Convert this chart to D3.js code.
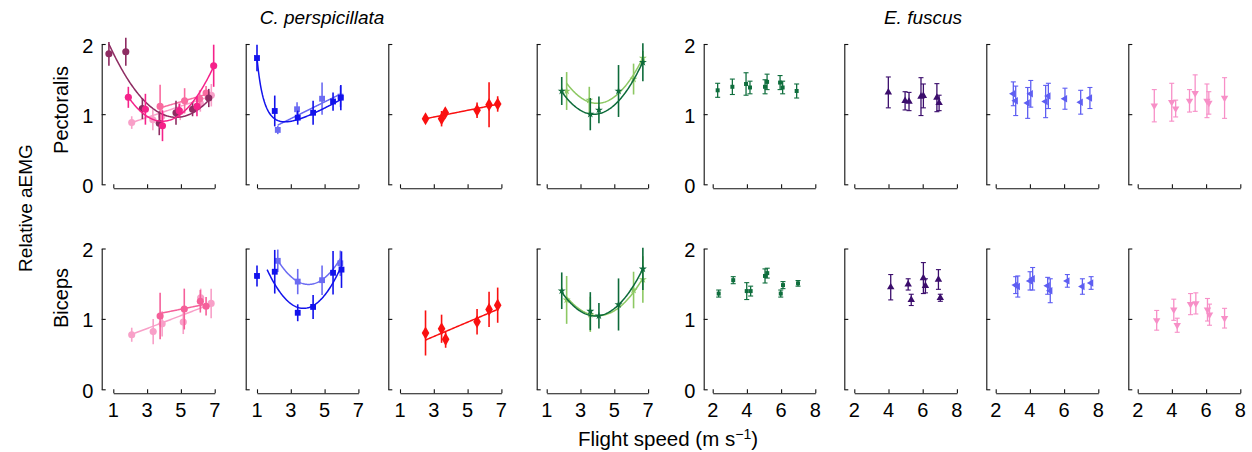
<!DOCTYPE html>
<html>
<head>
<meta charset="utf-8">
<script src="https://cdn.jsdelivr.net/npm/d3@7"></script>
<style>
  body { margin: 0; background: #fff; }
  svg { display: block; font-family: "Liberation Sans", Arial, sans-serif; }
</style>
</head>
<body>
<svg id="chart" width="1252" height="452"></svg>
<script>
const speciesNames = ['C. perspicillata', 'E. fuscus']
const muscleNames = ['Pectoralis', 'Biceps']
const cpSpeedTicks = [1, 3, 5, 7]
const efSpeedTicks = [2, 4, 6, 8]
const emgTicks = [0, 1, 2]

// points: [flight speed, relative aEMG, error half-width]
// C. perspicillata, pectoralis
const cpPecMaroon = [[0.74, 1.86, 0.17], [1.74, 1.89, 0.2], [2.72, 1.08, 0.15], [3.72, 0.87, 0.17], [4.71, 1.02, 0.17], [5.69, 1.07, 0.1], [6.65, 1.23, 0.13]]
const cpPecHot = [[1.89, 1.24, 0.15], [2.9, 1.07, 0.22], [3.91, 0.835, 0.22], [4.9, 1.05, 0.1], [5.95, 1.11, 0.14], [6.94, 1.69, 0.3]]
const cpPecRose = [[3.77, 1.11, 0.31], [5.22, 1.19, 0.18], [6.11, 1.22, 0.12], [6.49, 1.3, 0.1]]
const cpPecPale = [[2.09, 0.88, 0.09], [3.34, 0.92, 0.15], [3.87, 0.97, 0.15], [4.96, 1.035, 0.12], [6.15, 1.155, 0.12], [6.8, 1.27, 0.16]]
const cpPecBlue = [[1.0, 1.8, 0.19], [2.05, 1.045, 0.22], [3.41, 0.95, 0.1], [4.32, 1.02, 0.17], [5.5, 1.18, 0.13], [5.96, 1.235, 0.18]]
const cpPecSky = [[2.23, 0.775, 0.06], [3.37, 1.07, 0.1], [4.85, 1.22, 0.23], [5.94, 1.25, 0.15]]
const cpPecRed = [[2.51, 0.935, 0.03], [3.46, 0.935, 0.11], [3.68, 1.02, 0.07], [5.56, 1.055, 0.11], [6.27, 1.135, 0.32], [6.78, 1.145, 0.11]]
const cpPecForest = [[1.89, 1.33, 0.2], [3.58, 1.0, 0.23], [4.09, 1.06, 0.19], [5.25, 1.33, 0.37], [6.69, 1.74, 0.27]]
const cpPecLime = [[2.18, 1.33, 0.27], [3.52, 1.2, 0.19], [6.14, 1.5, 0.22], [6.69, 1.8, 0.1]]
// C. perspicillata, biceps
const cpBicRose = [[3.77, 1.04, 0.33], [5.2, 1.14, 0.29], [6.15, 1.25, 0.16], [6.49, 1.18, 0.13]]
const cpBicPale = [[2.09, 0.775, 0.1], [3.36, 0.82, 0.18], [3.89, 0.93, 0.18], [5.14, 0.955, 0.17], [6.17, 1.3, 0.13], [6.79, 1.22, 0.21]]
const cpBicBlue = [[1.0, 1.61, 0.15], [2.05, 1.67, 0.31], [3.41, 1.087, 0.12], [4.32, 1.17, 0.17], [5.5, 1.655, 0.31], [6.0, 1.7, 0.26]]
const cpBicSky = [[2.23, 1.825, 0.16], [3.41, 1.53, 0.18], [4.85, 1.55, 0.21], [5.93, 1.79, 0.18]]
const cpBicRed = [[2.51, 0.8, 0.32], [3.46, 0.86, 0.2], [3.7, 0.71, 0.12], [5.56, 0.96, 0.18], [6.27, 1.135, 0.25], [6.78, 1.195, 0.25]]
const cpBicForest = [[1.89, 1.4, 0.26], [3.58, 1.11, 0.27], [4.09, 1.045, 0.18], [5.25, 1.205, 0.37], [6.69, 1.71, 0.3]]
const cpBicLime = [[2.18, 1.27, 0.34], [3.58, 1.065, 0.25], [6.14, 1.41, 0.26], [6.69, 1.56, 0.33]]
// E. fuscus, pectoralis
const efPecGreen = [[2.29, 1.34, 0.1], [3.15, 1.39, 0.11], [3.95, 1.43, 0.16], [4.18, 1.38, 0.09], [5.06, 1.39, 0.1], [5.18, 1.46, 0.11], [5.94, 1.45, 0.1], [6.09, 1.38, 0.09], [6.91, 1.33, 0.1]]
const efPecPurple = [[3.99, 1.31, 0.22], [4.97, 1.19, 0.13], [5.2, 1.18, 0.13], [5.9, 1.25, 0.27], [6.04, 1.26, 0.17], [6.83, 1.235, 0.2], [6.96, 1.16, 0.11]]
const efPecPeri = [[3.03, 1.29, 0.17], [3.17, 1.19, 0.21], [3.87, 1.16, 0.22], [4.05, 1.29, 0.19], [4.92, 1.18, 0.23], [5.08, 1.26, 0.18], [6.05, 1.22, 0.15], [6.97, 1.17, 0.17], [7.51, 1.23, 0.15]]
const efPecPink = [[2.97, 1.12, 0.23], [3.99, 1.17, 0.27], [4.22, 1.08, 0.12], [5.03, 1.19, 0.16], [5.36, 1.3, 0.26], [6.05, 1.19, 0.24], [6.16, 1.16, 0.16], [7.08, 1.23, 0.29]]
// E. fuscus, biceps
const efBicGreen = [[2.35, 1.36, 0.05], [3.2, 1.55, 0.05], [3.99, 1.395, 0.12], [4.22, 1.395, 0.07], [5.06, 1.61, 0.1], [5.19, 1.65, 0.07], [5.98, 1.36, 0.05], [6.11, 1.48, 0.05], [6.99, 1.505, 0.04]]
const efBicPurple = [[4.13, 1.45, 0.18], [5.15, 1.49, 0.08], [5.33, 1.27, 0.08], [6.04, 1.58, 0.22], [6.16, 1.47, 0.1], [6.92, 1.56, 0.14], [7.03, 1.3, 0.05]]
const efBicPeri = [[3.17, 1.48, 0.12], [3.29, 1.46, 0.15], [4.01, 1.54, 0.13], [4.16, 1.57, 0.16], [5.04, 1.47, 0.12], [5.19, 1.4, 0.17], [6.19, 1.54, 0.09], [7.07, 1.46, 0.11], [7.58, 1.51, 0.09]]
const efBicPink = [[3.11, 0.98, 0.14], [4.11, 1.13, 0.15], [4.31, 0.91, 0.1], [5.09, 1.21, 0.15], [5.4, 1.22, 0.15], [6.08, 1.13, 0.16], [6.2, 1.06, 0.15], [7.08, 1.01, 0.14]]

// fitted curves: [from, to, c0, c1, c2, cInv]  ->  y = c0 + c1*x + c2*x^2 + cInv/x^2
const fitPecMaroon = [0.74, 6.65, 2.4245, -0.6224, 0.0659, 0]
const fitPecHot = [1.89, 6.96, 2.192, -0.662, 0.08475, 0]
const fitPecRose = [3.77, 6.6, 0.823, 0.0707, 0, 0]
const fitPecPale = [2.09, 6.8, 0.711, 0.0807, 0, 0]
const fitPecBlue = [1.0, 5.96, 0.325, 0.1417, 0, 1.334]
const fitPecSky = [2.23, 5.94, 0.579, 0.119, 0, 0]
const fitPecRed = [2.51, 6.78, 0.8145, 0.048, 0, 0]
const fitPecForest = [1.89, 6.69, 2.276, -0.674, 0.0889, 0]
const fitPecLime = [2.18, 6.69, 2.549, -0.7007, 0.088, 0]
const fitBicRose = [3.77, 6.49, 0.895, 0.0485, 0, 0]
const fitBicPale = [2.09, 6.79, 0.589, 0.0915, 0, 0]
const fitBicBlue = [1.6, 5.95, 2.823, -0.8925, 0.119, 0]
const fitBicSky = [2.23, 5.95, 3.179, -0.8343, 0.103, 0]
const fitBicRed = [2.51, 6.78, 0.4443, 0.1019, 0, 0]
const fitBicForest = [1.89, 6.69, 2.325, -0.6607, 0.085, 0]
const fitBicLime = [2.18, 6.69, 2.29, -0.615, 0.076, 0]

// [column, row, points, fit, colour, marker]
const series = [
  [0, 0, cpPecPale, fitPecPale, '#f8a0c8', 'circle'],
  [0, 0, cpPecRose, fitPecRose, '#f96a9f', 'circle'],
  [0, 0, cpPecMaroon, fitPecMaroon, '#8e2c62', 'circle'],
  [0, 0, cpPecHot, fitPecHot, '#f5228a', 'circle'],
  [1, 0, cpPecSky, fitPecSky, '#6b6bf2', 'square'],
  [1, 0, cpPecBlue, fitPecBlue, '#1212ec', 'square'],
  [2, 0, cpPecRed, fitPecRed, '#fa1010', 'diamond'],
  [3, 0, cpPecLime, fitPecLime, '#8dc863', 'star'],
  [3, 0, cpPecForest, fitPecForest, '#0d6b3a', 'star'],
  [0, 1, cpBicPale, fitBicPale, '#f8a0c8', 'circle'],
  [0, 1, cpBicRose, fitBicRose, '#f5609a', 'circle'],
  [1, 1, cpBicSky, fitBicSky, '#6b6bf2', 'square'],
  [1, 1, cpBicBlue, fitBicBlue, '#1212ec', 'square'],
  [2, 1, cpBicRed, fitBicRed, '#fa1010', 'diamond'],
  [3, 1, cpBicLime, fitBicLime, '#8dc863', 'star'],
  [3, 1, cpBicForest, fitBicForest, '#0d6b3a', 'star'],
  [4, 0, efPecGreen, null, '#0f6e3d', 'block'],
  [5, 0, efPecPurple, null, '#3b0d6c', 'up'],
  [6, 0, efPecPeri, null, '#5e5ef2', 'left'],
  [7, 0, efPecPink, null, '#f78fc7', 'down'],
  [4, 1, efBicGreen, null, '#0f6e3d', 'block'],
  [5, 1, efBicPurple, null, '#3b0d6c', 'up'],
  [6, 1, efBicPeri, null, '#5e5ef2', 'left'],
  [7, 1, efBicPink, null, '#f78fc7', 'down']
]

// layout
const colStart = [113.3, 257, 400, 546.7, 712.7, 854.3, 995.7, 1137.7]
const colAxisGap = [11.6, 11.3, 11.7, 10, 9, 10, 9.4, 9.4]
const rowTop = [44, 248.5]
const rowBottom = [184.3, 389.3]
const rowXAxis = [188.3, 393.3]

const markerShapes = {
  circle: [d3.symbolCircle, 40, 0],
  square: [d3.symbolSquare, 34, 0],
  diamond: [d3.symbolDiamond, 50, 0],
  star: [d3.symbolStar, 20, 0],
  block: [d3.symbolSquare, 16, 0],
  up: [d3.symbolTriangle, 24, 0],
  left: [d3.symbolTriangle, 24, -90],
  down: [d3.symbolTriangle, 24, 180]
}

const svg = d3.select('#chart')

const scalesFor = (col, row) => {
  const cp = col < 4
  const x = d3.scaleLinear()
    .domain(cp ? [1, 7] : [2, 8])
    .range([colStart[col], colStart[col] + (cp ? 101.4 : 102.6)])
  const y = d3.scaleLinear().domain([0, 2]).range([rowBottom[row], rowTop[row]])
  return { x, y }
}

// axes
for (let row = 0; row < 2; row++) {
  for (let col = 0; col < 8; col++) {
    const { x, y } = scalesFor(col, row)
    const cp = col < 4
    const axisX = colStart[col] - colAxisGap[col]

    const gy = svg.append('g')
      .attr('transform', `translate(${axisX},0)`)
      .call(d3.axisRight(y).tickValues(emgTicks).tickSize(4).tickSizeOuter(0).tickFormat(''))
    const gx = svg.append('g')
      .attr('transform', `translate(0,${rowXAxis[row]})`)
      .call(d3.axisTop(x).tickValues(cp ? cpSpeedTicks : efSpeedTicks).tickSize(4).tickSizeOuter(0).tickFormat(''))
    ;[gx, gy].forEach(g => {
      g.select('.domain').attr('stroke', '#111').attr('stroke-width', 1.1)
      g.selectAll('.tick line').attr('stroke', '#111').attr('stroke-width', 1.1)
    })

    if (col === 0 || col === 4) {
      svg.append('g')
        .selectAll('text')
        .data(emgTicks)
        .join('text')
        .attr('x', axisX - 14)
        .attr('y', d => y(d) + 8.5)
        .attr('text-anchor', 'middle')
        .style('font-size', '20px')
        .text(d => d)
    }
    if (row === 1) {
      svg.append('g')
        .selectAll('text')
        .data(cp ? cpSpeedTicks : efSpeedTicks)
        .join('text')
        .attr('x', d => x(d))
        .attr('y', rowXAxis[row] + 24)
        .attr('text-anchor', 'middle')
        .style('font-size', '20px')
        .text(d => d)
    }
  }
}

// data
const fitValue = (f, v) => f[2] + f[3] * v + f[4] * v * v + (f[5] ? f[5] / (v * v) : 0)

series.forEach(([col, row, points, fit, colour, marker]) => {
  const { x, y } = scalesFor(col, row)
  const cp = col < 4
  const g = svg.append('g')

  if (fit) {
    const xs = d3.range(fit[0], fit[1], 0.04).concat([fit[1]])
    g.append('path')
      .datum(xs)
      .attr('fill', 'none')
      .attr('stroke', colour)
      .attr('stroke-width', 1.5)
      .attr('d', d3.line().x(d => x(d)).y(d => y(fitValue(fit, d))))
  }

  g.selectAll('line.err')
    .data(points)
    .join('line')
    .attr('class', 'err')
    .attr('x1', d => x(d[0]))
    .attr('x2', d => x(d[0]))
    .attr('y1', d => y(d[1] - d[2]))
    .attr('y2', d => y(d[1] + d[2]))
    .attr('stroke', colour)
    .attr('stroke-width', cp ? 1.6 : 1.3)

  if (!cp) {
    const caps = points.flatMap(d => [[d[0], d[1] - d[2]], [d[0], d[1] + d[2]]])
    g.selectAll('line.cap')
      .data(caps)
      .join('line')
      .attr('class', 'cap')
      .attr('x1', d => x(d[0]) - 2.5)
      .attr('x2', d => x(d[0]) + 2.5)
      .attr('y1', d => y(d[1]))
      .attr('y2', d => y(d[1]))
      .attr('stroke', colour)
      .attr('stroke-width', 1.1)
  }

  const [shape, size, rot] = markerShapes[marker]
  g.selectAll('path.mark')
    .data(points)
    .join('path')
    .attr('class', 'mark')
    .attr('d', d3.symbol().type(shape).size(size))
    .attr('transform', d => `translate(${x(d[0])},${y(d[1])}) rotate(${rot})`)
    .attr('fill', colour)
})

// titles
svg.append('text')
  .attr('x', 322).attr('y', 24)
  .attr('text-anchor', 'middle')
  .style('font-size', '19px').style('font-style', 'italic')
  .text(speciesNames[0])
svg.append('text')
  .attr('x', 923).attr('y', 24)
  .attr('text-anchor', 'middle')
  .style('font-size', '19px').style('font-style', 'italic')
  .text(speciesNames[1])

const rowLabelY = [110, 298]
muscleNames.forEach((name, i) => {
  svg.append('text')
    .attr('transform', `translate(68,${rowLabelY[i]}) rotate(-90)`)
    .attr('text-anchor', 'middle')
    .style('font-size', '20px')
    .text(name)
})

svg.append('text')
  .attr('transform', 'translate(32,208) rotate(-90)')
  .attr('text-anchor', 'middle')
  .style('font-size', '19px')
  .text('Relative aEMG')

const xTitle = svg.append('text')
  .attr('x', 668).attr('y', 446)
  .attr('text-anchor', 'middle')
  .style('font-size', '20.5px')
xTitle.append('tspan').text('Flight speed (m s')
xTitle.append('tspan').attr('dy', -7).style('font-size', '14px').text('\u22121')
xTitle.append('tspan').attr('dy', 7).text(')')
</script>
</body>
</html>
